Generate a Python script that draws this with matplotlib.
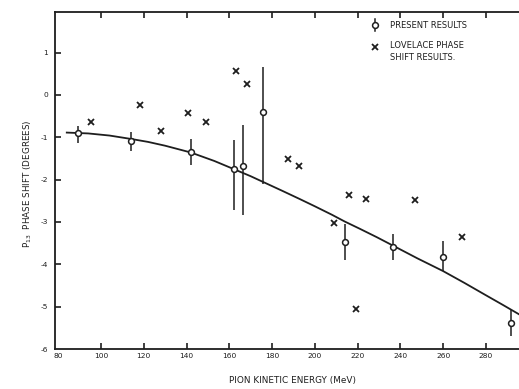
import matplotlib
matplotlib.use("Agg")
import matplotlib.pyplot as plt
import numpy as np

plt.rcParams['font.family'] = ['DejaVu Sans']
plt.rcParams['axes.unicode_minus'] = False

# Present results: energy (MeV), phase shift (deg), lower/upper error-bar ends
present_energy = [89.3, 114.0, 142.1, 162.4, 166.6, 175.7, 214.3, 236.6, 259.8, 291.6]
present_phase = [-0.91, -1.09, -1.35, -1.75, -1.67, -0.41, -3.47, -3.58, -3.82, -5.39]
present_low = [-1.14, -1.32, -1.65, -2.71, -2.83, -2.10, -3.90, -3.89, -4.16, -5.70]
present_high = [-0.74, -0.87, -1.05, -1.06, -0.72, 0.67, -3.04, -3.28, -3.45, -5.08]

# Lovelace phase shift results
lovelace_energy = [95.5, 118.3, 128.3, 140.5, 149.2, 163.3, 168.3, 187.4, 192.5,
                   208.8, 215.8, 219.4, 224.1, 246.8, 268.9]
lovelace_phase = [-0.64, -0.24, -0.85, -0.42, -0.63, 0.56, 0.25, -1.52, -1.67,
                  -3.03, -2.36, -5.05, -2.46, -2.48, -3.36]

# Fitted curve through the phase shifts
curve_energy = [84, 94, 104, 114, 122, 130, 142, 153, 162, 170, 176, 185, 193,
                200, 208, 214, 221, 229, 237, 248, 260, 270, 280, 288, 295.5]
curve_phase = [-0.89, -0.91, -0.96, -1.04, -1.11, -1.20, -1.36, -1.56, -1.75,
               -1.92, -2.06, -2.27, -2.46, -2.63, -2.83, -2.99, -3.16, -3.36,
               -3.57, -3.86, -4.16, -4.44, -4.73, -4.96, -5.18]

x_ticks = [80, 100, 120, 140, 160, 180, 200, 220, 240, 260, 280]
y_ticks = [1, 0, -1, -2, -3, -4, -5, -6]

ink = '#1e1e1e'

fig = plt.figure(figsize=(5.19, 3.89), dpi=100)
ax = fig.add_axes([0.106, 0.1028, 0.894, 0.8656])

ax.plot(curve_energy, curve_phase, color=ink, lw=1.3, zorder=2,
        solid_joinstyle='round')

pe = np.array(present_phase)
yerr = [pe - np.array(present_low), np.array(present_high) - pe]
ax.errorbar(present_energy, present_phase, yerr=yerr, fmt='o', ms=4.2,
            mfc='white', mec=ink, mew=1.1, ecolor=ink, elinewidth=1.1,
            capsize=0, zorder=3)

ax.plot(lovelace_energy, lovelace_phase, linestyle='none', marker='x',
        ms=4.2, mew=1.3, color=ink, zorder=3)

ax.set_xlim(78.5, 295.5)
ax.set_ylim(-6, 1.95)
ax.set_xticks(x_ticks)
ax.set_yticks(y_ticks)
ax.set_xticklabels([str(v) for v in x_ticks])
ax.set_yticklabels([str(v) for v in y_ticks])

ax.tick_params(axis='both', direction='in', length=4.5, width=1.2, color=ink,
               labelsize=5.4, labelcolor=ink)
ax.tick_params(axis='x', top=True, pad=3)
ax.tick_params(axis='y', pad=5)

# the corner ticks coincide with the frame
xt = ax.xaxis.get_major_ticks()[0]
xt.tick1line.set_visible(False)
xt.tick2line.set_visible(False)
ax.yaxis.get_major_ticks()[-1].tick1line.set_visible(False)

for side in ['left', 'bottom', 'top']:
    ax.spines[side].set_linewidth(1.3)
    ax.spines[side].set_color(ink)
ax.spines['right'].set_visible(False)

ax.set_ylabel(r'P$_{13}$  PHASE SHIFT (DEGREES)', fontsize=6.3, color=ink)
ax.yaxis.set_label_coords(-0.046, 0.49)
ax.set_xlabel('PION KINETIC ENERGY (MeV)', fontsize=6.4, color=ink)
ax.xaxis.set_label_coords(0.511, -0.079)

# key in the upper right
tr = ax.transAxes
ax.plot([0.690, 0.690], [0.943, 0.981], color=ink, lw=1.1, transform=tr,
        clip_on=False)
ax.plot([0.690], [0.962], marker='o', ms=4.2, mfc='white', mec=ink, mew=1.1,
        transform=tr, clip_on=False)
ax.plot([0.690], [0.897], marker='x', ms=4.2, mew=1.3, color=ink,
        transform=tr, clip_on=False)
key_font = dict(fontsize=6, color=ink, ha='left', va='center', transform=tr)
ax.text(0.722, 0.962, 'PRESENT RESULTS', **key_font)
ax.text(0.722, 0.901, 'LOVELACE PHASE', **key_font)
ax.text(0.722, 0.866, 'SHIFT RESULTS.', **key_font)

fig.savefig('out.png', dpi=100, facecolor='white')
